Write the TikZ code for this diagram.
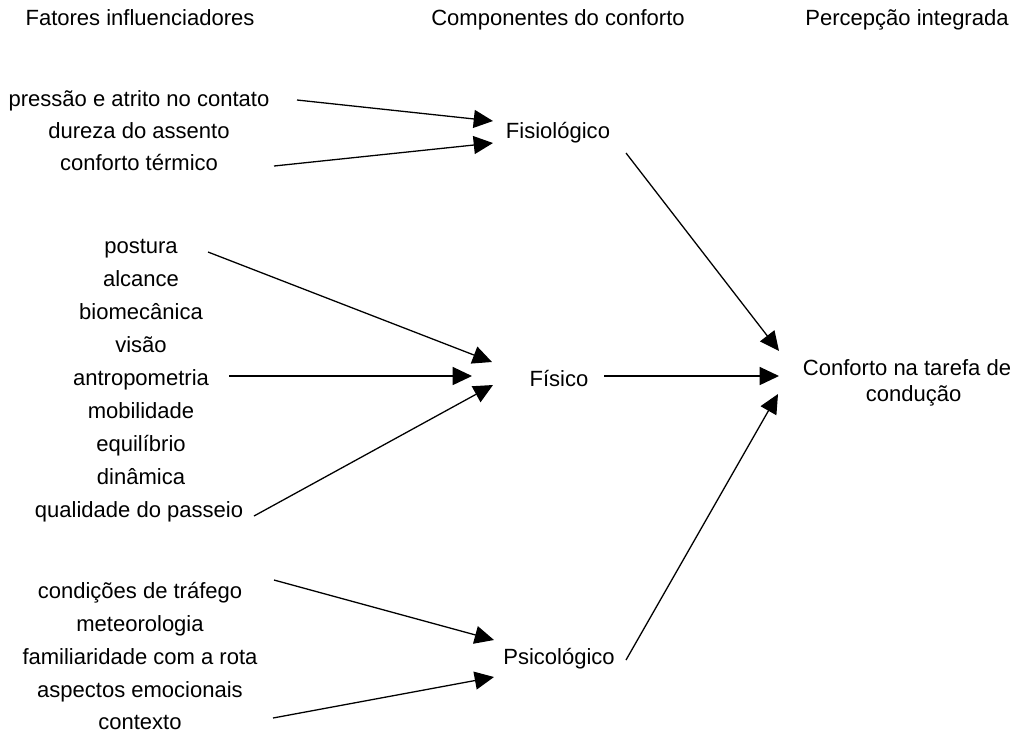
\documentclass[tikz,border=0pt]{standalone}
\usepackage{fontspec}
\setmainfont{Liberation Sans}
\usetikzlibrary{arrows.meta}

\begin{document}
\begin{tikzpicture}[x=0.545pt,y=-0.545pt]
        \tikzstyle{every node}+=[inner sep=0pt, anchor=base, font=\fontsize{12}{14}\selectfont]
        \tikzstyle{seta}=[black, line width=0.7pt, -{Triangle[length=10.5pt,width=9.8pt]}]
        \useasboundingbox (0,0) rectangle (1013,731);
        % cabecalhos
        \node (fatores) at (140,25) {Fatores influenciadores};
        \node (componentes) at (558,25) {Componentes do conforto};
        \node (percepcao) at (907,25) {Percepção integrada};
        % fatores
        \node (pressao) at (139,106) {pressão e atrito no contato};
        \node (dureza) at (139,138) {dureza do assento};
        \node (termico) at (139,170) {conforto térmico};
        \node (postura) at (141,253) {postura};
        \node (alcance) at (141,286) {alcance};
        \node (biomec) at (141,319) {biomecânica};
        \node (visao) at (141,352) {visão};
        \node (antropo) at (141,385) {antropometria};
        \node (mobil) at (141,418) {mobilidade};
        \node (equil) at (141,451) {equilíbrio};
        \node (dinam) at (141,484) {dinâmica};
        \node (passeio) at (139,517) {qualidade do passeio};
        \node (trafego) at (140,598) {condições de tráfego};
        \node (meteo) at (140,631) {meteorologia};
        \node (rota) at (140,664) {familiaridade com a rota};
        \node (emoc) at (140,697) {aspectos emocionais};
        \node (contexto) at (140,729) {contexto};
        % componentes
        \node (fisio) at (558,138) {Fisiológico};
        \node (fisico) at (559,386) {Físico};
        \node (psico) at (559,664) {Psicológico};
        % percepcao
        \node (conforto) at (907,401) [align=center] {Conforto na tarefa de\\\hspace*{0.6em}condução};
        % pontas das setas
        \coordinate (pressao-e) at (297,100);
        \coordinate (termico-e) at (274,166);
        \coordinate (postura-e) at (208,252);
        \coordinate (antropo-e) at (229,376);
        \coordinate (passeio-e) at (254,516);
        \coordinate (trafego-e) at (274,580);
        \coordinate (contexto-e) at (273,718);
        \coordinate (fisio-w1) at (493,121);
        \coordinate (fisio-w2) at (493,143);
        \coordinate (fisico-w1) at (492,362);
        \coordinate (fisico-w2) at (472,376);
        \coordinate (fisico-w3) at (493,385);
        \coordinate (psico-w1) at (494,640);
        \coordinate (psico-w2) at (494,677);
        \coordinate (fisio-e) at (626,153);
        \coordinate (fisico-e) at (604,376);
        \coordinate (psico-e) at (626,660);
        \coordinate (conforto-w1) at (779,351);
        \coordinate (conforto-w2) at (779,376);
        \coordinate (conforto-w3) at (778,394);
        \draw [seta] (pressao-e) -- (fisio-w1);
        \draw [seta] (termico-e) -- (fisio-w2);
        \draw [seta] (postura-e) -- (fisico-w1);
        \draw [seta] (antropo-e) -- (fisico-w2);
        \draw [seta] (passeio-e) -- (fisico-w3);
        \draw [seta] (trafego-e) -- (psico-w1);
        \draw [seta] (contexto-e) -- (psico-w2);
        \draw [seta] (fisio-e) -- (conforto-w1);
        \draw [seta] (fisico-e) -- (conforto-w2);
        \draw [seta] (psico-e) -- (conforto-w3);
\end{tikzpicture}
\end{document}
